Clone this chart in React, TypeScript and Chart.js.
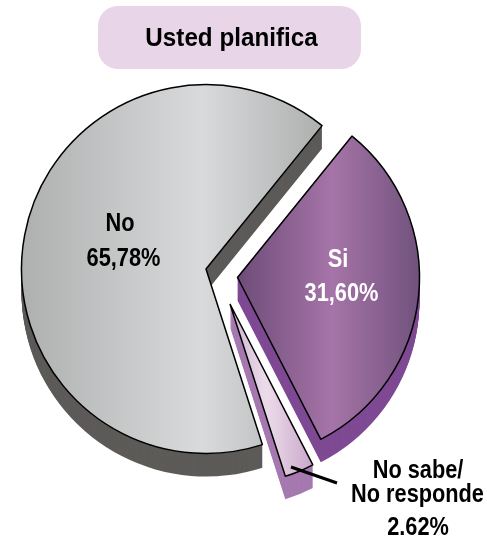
import React, { useEffect, useRef } from "react";
import { Chart, registerables } from "chart.js";

Chart.register(...registerables);

const categories = ["Si", "No sabe/No responde", "No"];
const values = [31.6, 2.62, 65.78];
const titleText = "Usted planifica";
const FONT = '"Liberation Sans", Arial, sans-serif';

const sliceCentres = [
  [237.5, 277.5],
  [230, 304],
  [206, 269],
];
const sliceRadii = [182, 181, 184.5];
const sideColours = ["#7f4a94", "#a679b0", "#5d5b59"];
const gradientStops = [
  { from: 237, to: 420, colours: ["#6d4c78", "#a674a8", "#70527c"], mid: 0.52 },
  { from: 230, to: 316, colours: ["#cdb4cf", "#ecdcea", "#c6a4c8"], mid: 0.42 },
  { from: 21, to: 322, colours: ["#aeb0b0", "#d8dadb", "#aeb0b0"], mid: 0.6 },
];
const DEPTH = 23;

const placeSlices = {
  id: "placeSlices",
  afterDatasetsUpdate(chart: any) {
    chart.getDatasetMeta(0).data.forEach((arc: any, i: number) => {
      arc.x = sliceCentres[i][0];
      arc.y = sliceCentres[i][1];
      arc.outerRadius = sliceRadii[i];
    });
  },
};

const extrude = {
  id: "extrude",
  beforeDatasetsDraw(chart: any) {
    const ctx = chart.ctx;
    chart.getDatasetMeta(0).data.forEach((arc: any, i: number) => {
      ctx.save();
      ctx.fillStyle = sideColours[i];
      for (let d = DEPTH; d >= 1; d--) {
        ctx.beginPath();
        ctx.moveTo(arc.x, arc.y + d);
        ctx.arc(arc.x, arc.y + d, arc.outerRadius, arc.startAngle, arc.endAngle);
        ctx.closePath();
        ctx.fill();
      }
      ctx.restore();
    });
  },
};

function text(ctx: any, s: string, x: number, y: number, size: number, sx: number, colour: string) {
  ctx.save();
  ctx.translate(x, y);
  ctx.scale(sx, 1);
  ctx.font = `bold ${size}px ${FONT}`;
  ctx.fillStyle = colour;
  ctx.textAlign = "center";
  ctx.textBaseline = "alphabetic";
  ctx.fillText(s, 0, 0);
  ctx.restore();
}

const annotations = {
  id: "annotations",
  afterDraw(chart: any) {
    const ctx = chart.ctx;
    ctx.save();
    ctx.fillStyle = "#e8d5e8";
    ctx.beginPath();
    ctx.roundRect(98, 6, 263, 63, 20);
    ctx.fill();
    text(ctx, titleText, 231.5, 46, 25.5, 0.95, "#000");
    text(ctx, "No", 120, 231, 25.5, 0.855, "#000");
    text(ctx, "65,78%", 123.5, 266, 25.5, 0.855, "#000");
    text(ctx, "Si", 338, 267, 25.5, 0.855, "#fff");
    text(ctx, "31,60%", 341.5, 301, 25.5, 0.855, "#fff");
    ctx.strokeStyle = "#000";
    ctx.lineWidth = 3;
    ctx.beginPath();
    ctx.moveTo(291, 467);
    ctx.lineTo(337, 483);
    ctx.stroke();
    text(ctx, "No sabe/", 418, 478, 25, 0.87, "#000");
    text(ctx, "No responde", 417.5, 502, 25, 0.87, "#000");
    text(ctx, "2.62%", 418, 535, 25, 0.87, "#000");
    ctx.restore();
  },
};

export default function App() {
  const ref = useRef<HTMLCanvasElement>(null);
  useEffect(() => {
    const chart = new Chart(ref.current!, {
      type: "pie",
      data: {
        labels: categories,
        datasets: [
          {
            data: values,
            radius: 182,
            borderColor: "#000",
            borderWidth: 1.5,
            backgroundColor: (c: any) => {
              const g = gradientStops[c.dataIndex];
              if (!g) return "#ccc";
              const grad = c.chart.ctx.createLinearGradient(g.from, 0, g.to, 0);
              grad.addColorStop(0, g.colours[0]);
              grad.addColorStop(g.mid, g.colours[1]);
              grad.addColorStop(1, g.colours[2]);
              return grad;
            },
          } as any,
        ],
      },
      options: {
        animation: false,
        responsive: false,
        rotation: 39,
        plugins: { legend: { display: false }, tooltip: { enabled: false }, title: { display: false } },
      },
      plugins: [placeSlices, extrude, annotations],
    });
    return () => chart.destroy();
  }, []);
  return (
    <div style={{ position: "fixed", left: 0, top: 0, width: 487, height: 537, background: "#fff" }}>
      <canvas ref={ref} width={487} height={537} style={{ display: "block" }} />
    </div>
  );
}
